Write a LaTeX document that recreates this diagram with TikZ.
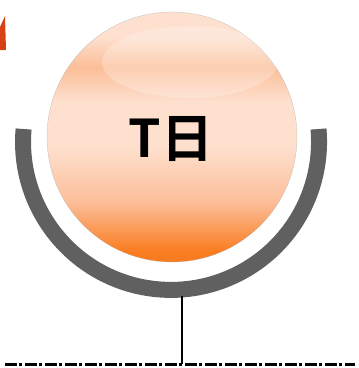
\documentclass[tikz,border=0pt]{standalone}
\usepackage{fontspec}
\newfontfamily\cjk{Noto Sans CJK SC}[BoldFont={Noto Sans CJK SC Bold}]
\definecolor{ballhi}{RGB}{253,224,206}
\definecolor{ballmid}{RGB}{252,190,152}
\definecolor{balllo}{RGB}{250,124,32}
\definecolor{cradle}{RGB}{96,96,96}
\definecolor{tipred}{RGB}{214,66,20}
\pgfdeclareverticalshading{ballshade}{100bp}{color(0bp)=(balllo); color(27bp)=(balllo); color(37bp)=(ballmid); color(48bp)=(ballhi); color(57bp)=(ballhi); color(64bp)=(ballmid); color(70bp)=(ballhi); color(100bp)=(ballhi)}
\begin{document}
\begin{tikzpicture}[x=1pt,y=-1pt,
	ball/.style={ circle, draw=gray!60, very thin, inner sep=0pt, minimum size=250pt, shading=ballshade },
	holder/.style={ cradle, line width=16pt },
	stem/.style={ black, line width=2.2pt },
	ground/.style={ black, line width=3pt, dash pattern=on 12pt off 2.5pt on 3pt off 2.5pt }
]
\useasboundingbox (0,0) rectangle (359,368);

\fill[tipred] (0,27) -- (5,16) -- (6,50) -- (0,50) -- cycle;

\draw[holder] (23.6,129) arc[start angle=185, end angle=-5, radius=148];
\node at (172,137) (ball) [ball] {};
\fill[white, opacity=0.25] (190,62) ellipse[x radius=88, y radius=36];
\node at (171,139) (label) {\cjk\bfseries\fontsize{52}{52}\selectfont T日};

\coordinate (hook) at (182,296);
\coordinate (foot) at (182,364);
\coordinate (left) at (5,364);
\coordinate (right) at (355,364);
\draw[stem] (hook) -- (foot);
\draw[ground] (left) -- (right);

\end{tikzpicture}
\end{document}
